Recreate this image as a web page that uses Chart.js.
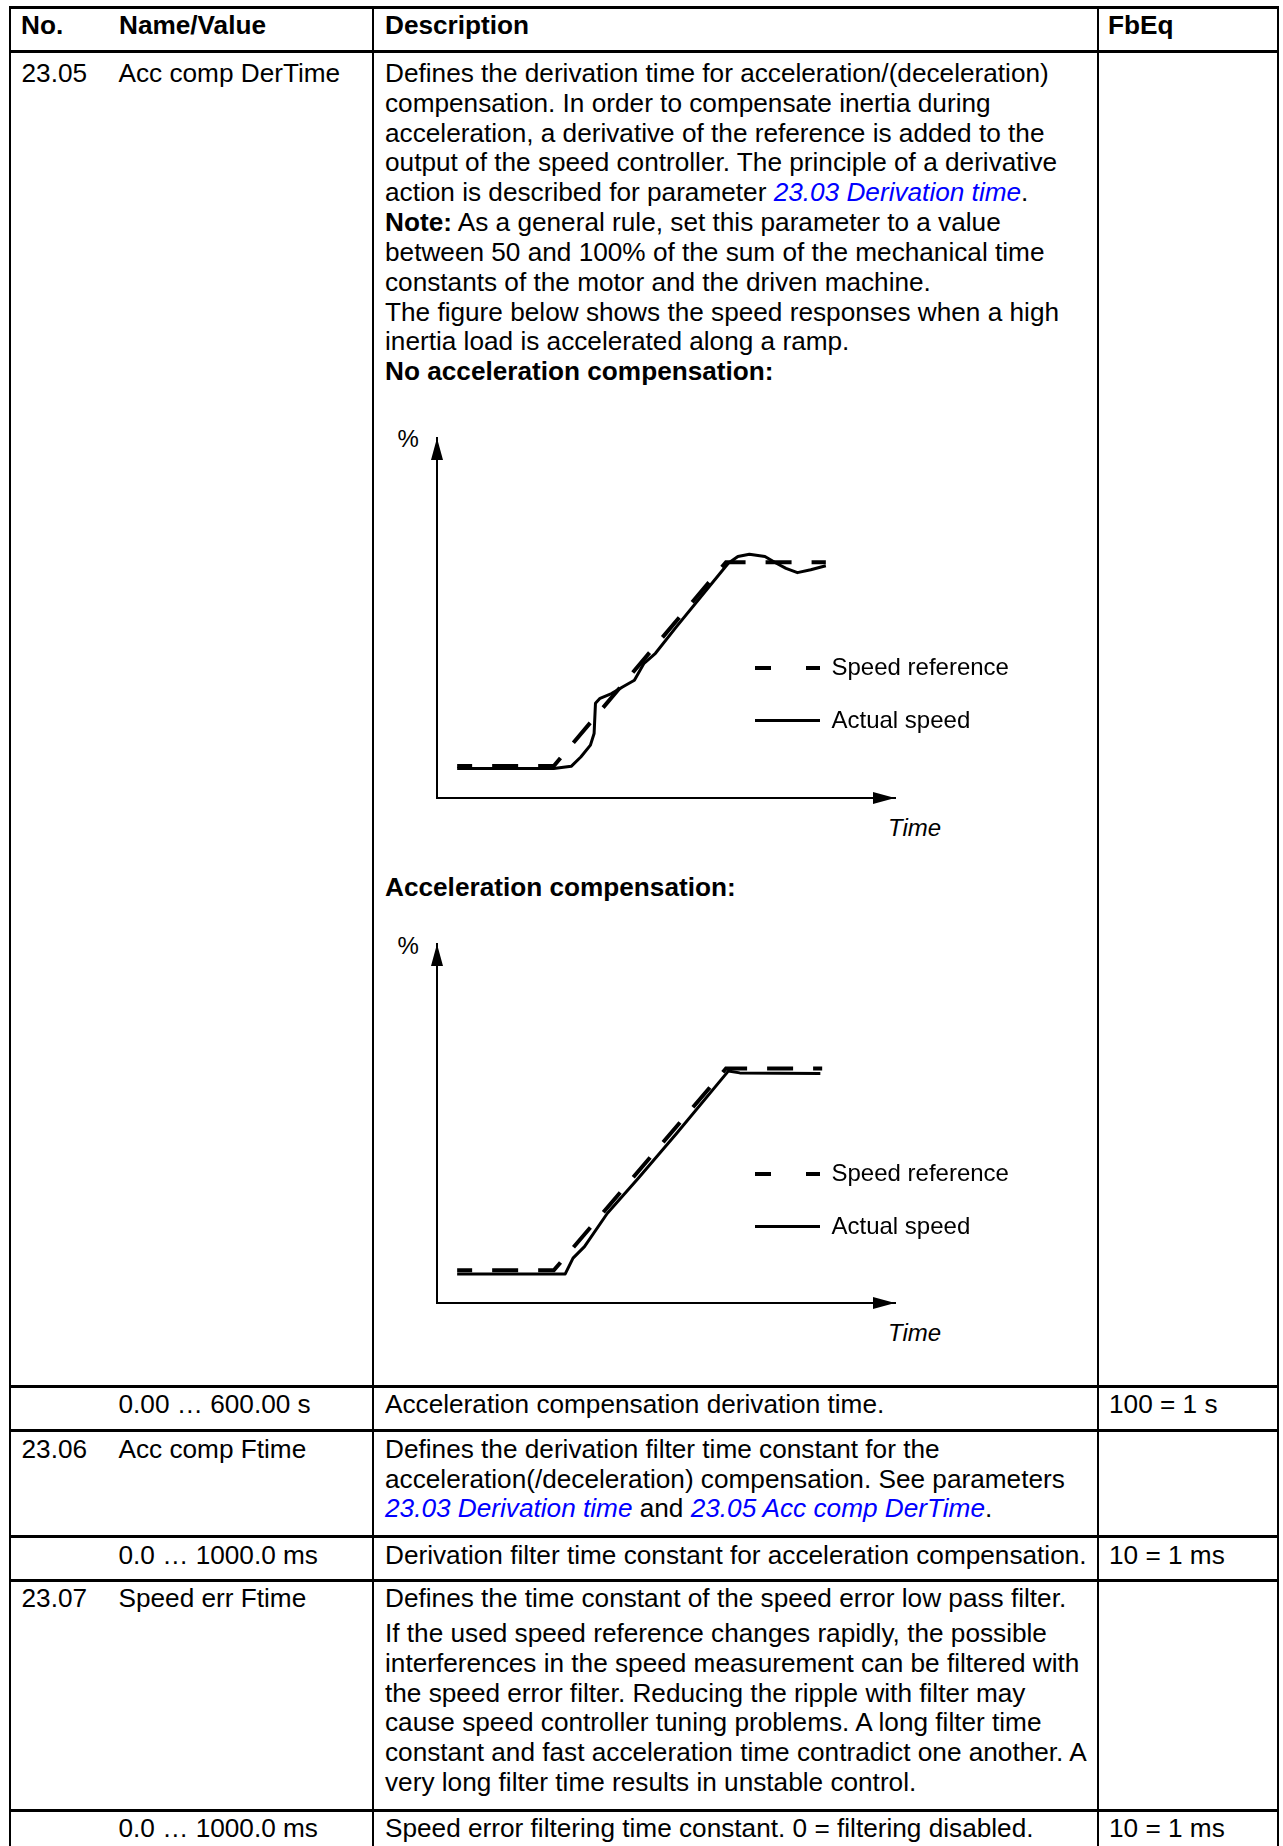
<!DOCTYPE html>
<html>
<head>
<meta charset="utf-8">
<script src="https://cdn.jsdelivr.net/npm/chart.js@4.4.1/dist/chart.umd.min.js"></script>
<style>
  html, body { margin: 0; padding: 0; background: #fff; }
  #page { position: relative; width: 1283px; height: 1846px; overflow: hidden; background: #fff; }
  .t { position: absolute; white-space: nowrap; font-family: "Liberation Sans", Arial, sans-serif; font-size: 26.2px; line-height: 29.83px; color: #000; }
  .b { font-weight: bold; }
  .lk { color: #0000ff; font-style: italic; }
  .s { position: absolute; white-space: nowrap; font-family: "Liberation Sans", Arial, sans-serif; font-size: 24px; line-height: 28px; color: #000; }
  .hl { position: absolute; left: 9px; width: 1270px; background: #000; }
  .vl { position: absolute; top: 6px; width: 2px; height: 1840px; background: #000; }
  .k { position: absolute; background: #000; }
  canvas { position: absolute; }
</style>
</head>
<body>
<div id="page">
  <!-- table rules -->
  <div class="hl" style="top:6px;height:3px"></div>
  <div class="hl" style="top:50px;height:3px"></div>
  <div class="hl" style="top:1385px;height:3px"></div>
  <div class="hl" style="top:1429px;height:3px"></div>
  <div class="hl" style="top:1535px;height:3px"></div>
  <div class="hl" style="top:1579px;height:3px"></div>
  <div class="hl" style="top:1809px;height:3px"></div>
  <div class="vl" style="left:9px"></div>
  <div class="vl" style="left:372px"></div>
  <div class="vl" style="left:1097px"></div>
  <div class="vl" style="left:1277px"></div>

  <!-- header -->
  <div class="t b" style="left:21px;top:11px">No.</div>
  <div class="t b" style="left:119px;top:11px">Name/Value</div>
  <div class="t b" style="left:385px;top:11px">Description</div>
  <div class="t b" style="left:1108px;top:11px">FbEq</div>

  <!-- row 23.05 -->
  <div class="t" style="left:21.5px;top:59px">23.05</div>
  <div class="t" style="left:118.5px;top:59px">Acc comp DerTime</div>
  <div class="t" style="left:385px;top:59px">Defines the derivation time for acceleration/(deceleration)<br>compensation. In order to compensate inertia during<br>acceleration, a derivative of the reference is added to the<br>output of the speed controller. The principle of a derivative<br>action is described for parameter <span class="lk">23.03 Derivation time</span>.<br><span class="b">Note:</span> As a general rule, set this parameter to a value<br>between 50 and 100% of the sum of the mechanical time<br>constants of the motor and the driven machine.<br>The figure below shows the speed responses when a high<br>inertia load is accelerated along a ramp.<br><span class="b">No acceleration compensation:</span></div>

  <!-- chart 1 -->
  <canvas id="c1" width="478" height="380" style="left:427px;top:428px"></canvas>
  <div class="s" style="left:397.5px;top:425px">%</div>
  <div class="s" style="left:888px;top:813.5px;font-style:italic">Time</div>
  <div class="k" style="left:754.5px;top:666px;width:16.5px;height:4px"></div>
  <div class="k" style="left:806px;top:666px;width:14px;height:4px"></div>
  <div class="s" style="left:831.5px;top:653px">Speed reference</div>
  <div class="k" style="left:754.5px;top:719px;width:65.5px;height:3px"></div>
  <div class="s" style="left:831.5px;top:706px">Actual speed</div>

  <div class="t b" style="left:385px;top:873px">Acceleration compensation:</div>

  <!-- chart 2 -->
  <canvas id="c2" width="478" height="379" style="left:427px;top:934px"></canvas>
  <div class="s" style="left:397.5px;top:932px">%</div>
  <div class="s" style="left:888px;top:1319px;font-style:italic">Time</div>
  <div class="k" style="left:754.5px;top:1172px;width:16.5px;height:4px"></div>
  <div class="k" style="left:806px;top:1172px;width:14px;height:4px"></div>
  <div class="s" style="left:831.5px;top:1158.6px">Speed reference</div>
  <div class="k" style="left:754.5px;top:1225px;width:65.5px;height:3px"></div>
  <div class="s" style="left:831.5px;top:1211.6px">Actual speed</div>

  <!-- row value 23.05 -->
  <div class="t" style="left:118.5px;top:1390px">0.00 … 600.00 s</div>
  <div class="t" style="left:385px;top:1390px">Acceleration compensation derivation time.</div>
  <div class="t" style="left:1109px;top:1390px">100 = 1 s</div>

  <!-- row 23.06 -->
  <div class="t" style="left:21.5px;top:1434.7px">23.06</div>
  <div class="t" style="left:118.5px;top:1434.7px">Acc comp Ftime</div>
  <div class="t" style="left:385px;top:1434.7px">Defines the derivation filter time constant for the<br>acceleration(/deceleration) compensation. See parameters<br><span class="lk">23.03 Derivation time</span> and <span class="lk">23.05 Acc comp DerTime</span>.</div>

  <!-- row value 23.06 -->
  <div class="t" style="left:118.5px;top:1540.7px">0.0 … 1000.0 ms</div>
  <div class="t" style="left:385px;top:1540.7px">Derivation filter time constant for acceleration compensation.</div>
  <div class="t" style="left:1109px;top:1540.7px">10 = 1 ms</div>

  <!-- row 23.07 -->
  <div class="t" style="left:21.5px;top:1584px">23.07</div>
  <div class="t" style="left:118.5px;top:1584px">Speed err Ftime</div>
  <div class="t" style="left:385px;top:1584px">Defines the time constant of the speed error low pass filter.</div>
  <div class="t" style="left:385px;top:1619px">If the used speed reference changes rapidly, the possible<br>interferences in the speed measurement can be filtered with<br>the speed error filter. Reducing the ripple with filter may<br>cause speed controller tuning problems. A long filter time<br>constant and fast acceleration time contradict one another. A<br>very long filter time results in unstable control.</div>

  <!-- row value 23.07 -->
  <div class="t" style="left:118.5px;top:1814px">0.0 … 1000.0 ms</div>
  <div class="t" style="left:385px;top:1814px">Speed error filtering time constant. 0 = filtering disabled.</div>
  <div class="t" style="left:1109px;top:1814px">10 = 1 ms</div>
</div>

<script>
// ---- chart data (time and speed in % of axis length) ----
const noCompRefTime  = [4.4, 25.5, 63.1, 84.9];
const noCompRefSpeed = [8.9, 8.9, 65.5, 65.5];
const noCompActTime  = [4.4, 25.5, 29.3, 31.4, 33.5, 34.3, 34.6, 35.6, 38.1, 40.6, 43.1, 45.2, 47.7, 52.3, 63.6, 65.7, 68.2, 71.6, 74.1, 76.2, 78.7, 81.6, 84.9];
const noCompActSpeed = [8.2, 8.2, 8.8, 11.4, 14.7, 17.9, 26.3, 27.7, 29.0, 30.9, 32.7, 37.4, 40.2, 47.6, 65.2, 67.1, 67.7, 67.1, 65.2, 63.8, 62.6, 63.4, 64.5];

const compRefTime  = [4.4, 25.5, 63.1, 84.1];
const compRefSpeed = [9.1, 9.1, 65.3, 65.3];
const compActTime  = [4.4, 28.0, 29.7, 32.2, 37.2, 43.9, 52.3, 63.6, 66.1, 83.7];
const compActSpeed = [8.1, 8.1, 12.5, 15.7, 25.0, 34.7, 47.2, 64.6, 64.1, 63.9];

const seriesNames = ['Speed reference', 'Actual speed'];
const axisMin = 0, axisMax = 100;

function pts(xs, ys) { return xs.map((x, i) => ({ x: x, y: ys[i] })); }

const arrowPlugin = {
  id: 'axisArrows',
  afterDraw(chart) {
    const ctx = chart.ctx;
    const xs = chart.scales.x, ys = chart.scales.y;
    const ox = xs.getPixelForValue(axisMin), oy = ys.getPixelForValue(axisMin);
    const tx = xs.getPixelForValue(axisMax), ty = ys.getPixelForValue(axisMax);
    ctx.save();
    ctx.fillStyle = '#000';
    ctx.beginPath();
    ctx.moveTo(tx, oy); ctx.lineTo(tx - 22, oy - 6); ctx.lineTo(tx - 22, oy + 6); ctx.closePath();
    ctx.fill();
    ctx.beginPath();
    ctx.moveTo(ox, ty); ctx.lineTo(ox - 6, ty + 22); ctx.lineTo(ox + 6, ty + 22); ctx.closePath();
    ctx.fill();
    ctx.restore();
  }
};

function makeChart(id, refT, refS, actT, actS) {
  const axis = {
    type: 'linear', min: axisMin, max: axisMax,
    grid: { display: false, drawTicks: false, tickLength: 0 },
    border: { display: true, color: '#000', width: 2 },
    ticks: { display: false },
    title: { display: false }
  };
  return new Chart(document.getElementById(id), {
    type: 'line',
    data: {
      datasets: [
        { label: seriesNames[0], data: pts(refT, refS), borderColor: '#000', borderWidth: 4,
          borderDash: [26, 20], borderDashOffset: 11, borderCapStyle: 'butt', pointRadius: 0, tension: 0, fill: false },
        { label: seriesNames[1], data: pts(actT, actS), borderColor: '#000', borderWidth: 3,
          borderJoinStyle: 'round', borderCapStyle: 'butt', pointRadius: 0, tension: 0, fill: false }
      ]
    },
    options: {
      responsive: false, animation: false, devicePixelRatio: 1,
      layout: { padding: { left: 10, right: 10, top: 10, bottom: 10 } },
      plugins: { legend: { display: false }, tooltip: { enabled: false } },
      events: [],
      scales: { x: axis, y: Object.assign({}, axis) }
    },
    plugins: [arrowPlugin]
  });
}

makeChart('c1', noCompRefTime, noCompRefSpeed, noCompActTime, noCompActSpeed);
makeChart('c2', compRefTime, compRefSpeed, compActTime, compActSpeed);
</script>
</body>
</html>
